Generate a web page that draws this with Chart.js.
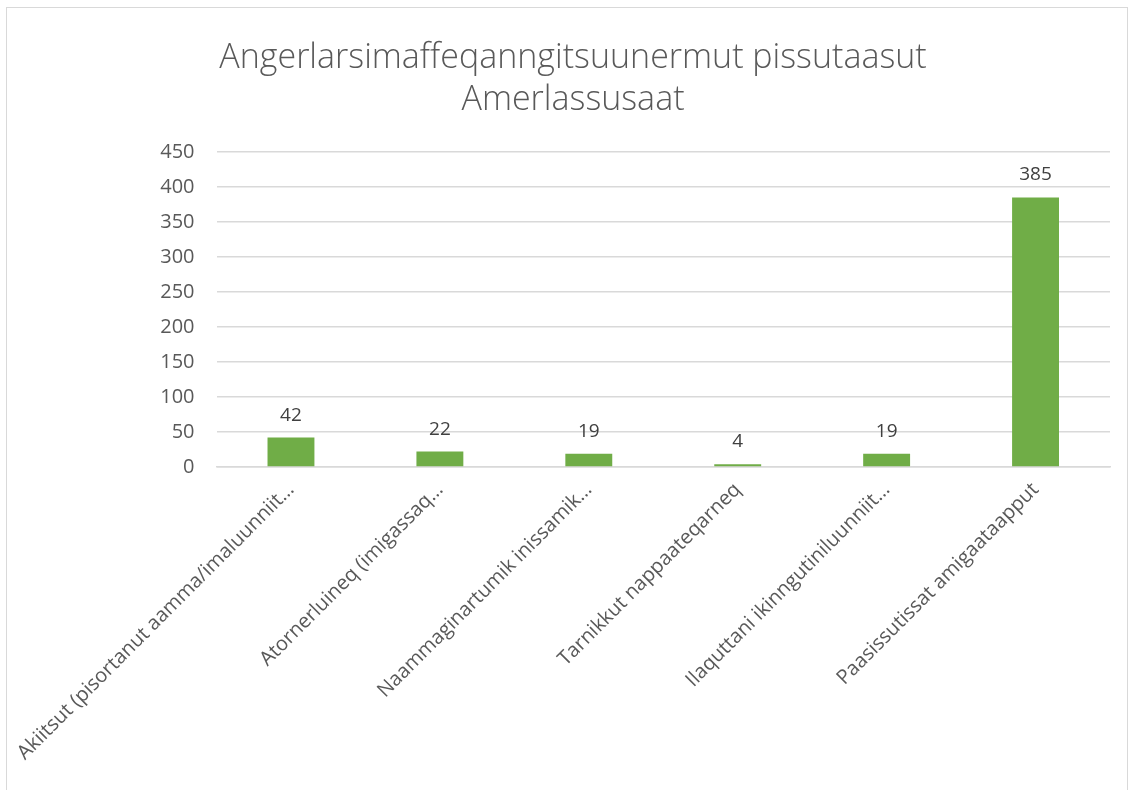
<!DOCTYPE html>
<html>
<head>
<meta charset="utf-8">
<script src="https://cdn.jsdelivr.net/npm/chart.js@4/dist/chart.umd.min.js"></script>
<style>
  html, body { margin: 0; padding: 0; background: #fff; }
  #wrap { position: relative; width: 1130px; height: 790px; }
  #frame { position: absolute; left: 6px; top: 7px; width: 1120px; height: 800px; border: 1px solid #d9d9d9; pointer-events: none; }
</style>
</head>
<body>
<div id="wrap">
  <canvas id="chart" width="1130" height="790"></canvas>
  <div id="frame"></div>
</div>
<script>
  const titleLines = ['Angerlarsimaffeqanngitsuunermut pissutaasut', 'Amerlassusaat'];
  const categories = [
    'Akiitsut (pisortanut aamma/imaluunniit…',
    'Atornerluineq (imigassaq…',
    'Naammaginartumik inissamik…',
    'Tarnikkut nappaateqarneq',
    'Ilaquttani ikinngutiniluunniit…',
    'Paasissutissat amigaataapput'
  ];
  const counts = [42, 22, 19, 4, 19, 385];
  const yMax = 450;
  const yStep = 50;

  const textColor = '#595959';
  const font = 'Open Sans';

  // value labels above each bar
  const barLabels = {
    id: 'barLabels',
    afterDatasetsDraw(chart) {
      const ctx = chart.ctx;
      const meta = chart.getDatasetMeta(0);
      ctx.save();
      ctx.font = '19px "' + font + '"';
      ctx.fillStyle = '#404040';
      ctx.textAlign = 'center';
      ctx.textBaseline = 'bottom';
      meta.data.forEach((bar, i) => {
        ctx.fillText(String(counts[i]), bar.x, bar.y - 13);
      });
      ctx.restore();
    }
  };

  new Chart(document.getElementById('chart'), {
    type: 'bar',
    data: {
      labels: categories,
      datasets: [{
        data: counts,
        backgroundColor: '#70ad47',
        barPercentage: 0.63,
        categoryPercentage: 0.5
      }]
    },
    options: {
      responsive: false,
      animation: false,
      layout: { padding: { left: 36, right: 20, top: 0, bottom: 0 } },
      plugins: {
        legend: { display: false },
        tooltip: { enabled: false },
        title: {
          display: true,
          text: titleLines,
          color: textColor,
          font: { family: font, size: 34, weight: '300', lineHeight: 1.25 },
          padding: { top: 37, bottom: 30 }
        }
      },
      scales: {
        x: {
          grid: { display: false },
          border: { display: true, color: '#d9d9d9', width: 1.5 },
          ticks: {
            color: textColor,
            font: { family: font, size: 20 },
            minRotation: 45,
            maxRotation: 45,
            autoSkip: false
          },
          afterFit(scale) { scale.height = 323; }
        },
        y: {
          min: 0,
          max: yMax,
          grid: { color: '#d9d9d9', lineWidth: 1.5, drawTicks: false },
          border: { display: false },
          ticks: {
            stepSize: yStep,
            color: textColor,
            font: { family: font, size: 20 },
            padding: 22
          },
          afterFit(scale) { scale.width = 180; }
        }
      }
    },
    plugins: [barLabels]
  });
</script>
</body>
</html>
